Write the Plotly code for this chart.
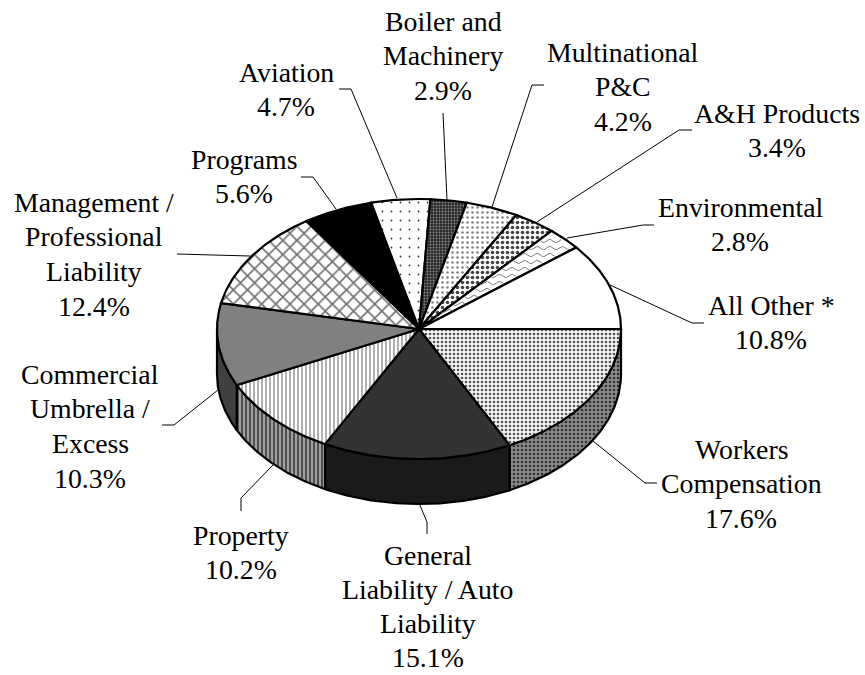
import math
import plotly.graph_objects as go

# ---- data ----
categories = ["Workers Compensation", "General Liability / Auto Liability", "Property",
              "Commercial Umbrella / Excess", "Management / Professional Liability",
              "Programs", "Aviation", "Boiler and Machinery", "Multinational P&C",
              "A&H Products", "Environmental", "All Other *"]
values = [17.6, 15.1, 10.2, 10.3, 12.4, 5.6, 4.7, 2.9, 4.2, 3.4, 2.8, 10.8]
label_lines = [["Workers", "Compensation"], ["General", "Liability / Auto", "Liability"], ["Property"],
               ["Commercial", "Umbrella /", "Excess"], ["Management /", "Professional", "Liability"],
               ["Programs"], ["Aviation"], ["Boiler and", "Machinery"], ["Multinational", "P&C"],
               ["A&H Products"], ["Environmental"], ["All Other *"]]

# ---- layout / style (separate from the data) ----
CX, CY, RX, RY, DEPTH = 419, 329, 202, 130, 45
W, H = 865, 675
FONT = dict(family="Liberation Serif", size=27.8, color="black")
label_x = [741, 427.5, 241, 90, 94, 244, 286, 443, 623, 777, 740, 771]
label_y = [449, 555, 535, 374, 202, 159, 72, 21, 52, 113, 207, 305]
label_step = [34.8, 34.0, 34.8, 34.8, 34.8, 34.8, 34.8, 34.8, 34.8, 34.8, 34.8, 34.8]
leaders = [
    [(593, 441), (645, 483), (657, 483)],
    [(419, 503), (427, 522), (427, 534)],
    [(273, 465), (241, 498), (241, 511)],
    [(218, 390), (174, 425), (162, 425)],
    [(250, 256), (189, 254), (177, 254)],
    [(336, 209), (313, 177), (301, 177)],
    [(397, 198), (351, 89), (339, 89)],
    [(447, 200), (443, 125), (443, 113)],
    [(492, 207), (532, 85), (544, 85)],
    [(537, 222), (679, 130), (692, 130)],
    [(567, 238), (643, 225), (654, 225)],
    [(610, 285), (692, 323), (704, 323)],
]
top_style = [
    dict(bg="#f4f4f4", fg="#555555", shape=".", size=4, sol=0.35),
    dict(bg="#333333"),
    dict(bg="#ffffff", fg="#a8a8a8", shape="|", size=4, sol=0.45),
    dict(bg="#808080"),
    dict(bg="#ffffff", fg="#707070", shape="x", size=10, sol=0.3),
    dict(bg="#000000"),
    dict(bg="#ffffff", fg="#333333", shape=".", size=9, sol=0.03),
    dict(bg="#2a2a2a", fg="#888888", shape=".", size=3, sol=0.3),
    dict(bg="#ffffff", fg="#808080", shape=".", size=5, sol=0.2),
    dict(bg="#ffffff", fg="#444444", shape=".", size=5, sol=0.4),
    dict(bg="#ffffff"),
    dict(bg="#ffffff"),
]
side_style = [
    dict(bg="#8a8a8a", fg="#333333", shape=".", size=4, sol=0.35),
    dict(bg="#1a1a1a"),
    dict(bg="#a0a0a0", fg="#505050", shape="|", size=4, sol=0.5),
    dict(bg="#404040"),
]


def fill_kw(st):
    kw = dict(fillcolor=st["bg"])
    if "shape" in st:
        kw["fillpattern"] = dict(shape=st["shape"], size=st["size"], solidity=st["sol"],
                                 fgcolor=st["fg"], bgcolor=st["bg"], fillmode="replace")
    return kw


def arc(a, b, dy=0, step=0.5):
    n = max(2, int(abs(b - a) / step) + 1)
    ts = [a + (b - a) * i / (n - 1) for i in range(n)]
    return [(CX + RX * math.cos(math.radians(t)), CY + dy + RY * math.sin(math.radians(t))) for t in ts]


fig = go.Figure()
bounds = []
acc = 0.0
total = sum(values)
for v in values:
    a0 = acc / total * 360
    acc += v
    bounds.append((a0, acc / total * 360))

# side walls (front half only)
for i, (a0, a1) in enumerate(bounds):
    if a0 >= 180:
        continue
    b = min(a1, 180)
    pts = arc(a0, b) + arc(b, a0, DEPTH)
    pts.append(pts[0])
    fig.add_trace(go.Scatter(x=[p[0] for p in pts], y=[p[1] for p in pts], mode="lines", fill="toself",
                             line=dict(color="black", width=2.2), hoverinfo="skip", **fill_kw(side_style[i])))

# top slices
for i, (a0, a1) in enumerate(bounds):
    pts = [(CX, CY)] + arc(a0, a1) + [(CX, CY)]
    fig.add_trace(go.Scatter(x=[p[0] for p in pts], y=[p[1] for p in pts], mode="lines", fill="toself",
                             line=dict(color="black", width=2.2), name=categories[i],
                             hoverinfo="name", **fill_kw(top_style[i])))

# wavy hatch for the Environmental slice
ea0, ea1 = bounds[categories.index("Environmental")]
wx, wy = [], []
row = CY - RY
while row < CY:
    x = CX
    while x < CX + RX:
        y = row + 1.6 * math.sin(x / 2.0)
        ang = math.degrees(math.atan2((y - CY) / RY, (x - CX) / RX)) % 360
        rr = math.hypot((x - CX) / RX, (y - CY) / RY)
        if ea0 + 0.5 < ang < ea1 - 0.5 and rr < 0.985:
            wx.append(x)
            wy.append(y)
        elif wx and wx[-1] is not None:
            wx.append(None)
            wy.append(None)
        x += 0.7
    if wx and wx[-1] is not None:
        wx.append(None)
        wy.append(None)
    row += 7
fig.add_trace(go.Scatter(x=wx, y=wy, mode="lines", line=dict(color="#777777", width=1), hoverinfo="skip"))

# leader lines
for pts in leaders:
    fig.add_trace(go.Scatter(x=[p[0] for p in pts], y=[p[1] for p in pts], mode="lines",
                             line=dict(color="black", width=1), hoverinfo="skip"))

# labels
for i, lines in enumerate(label_lines):
    all_lines = lines + [f"{values[i]:.1f}%"]
    for j, t in enumerate(all_lines):
        fig.add_annotation(x=label_x[i], y=label_y[i] + j * label_step[i], text=t, showarrow=False,
                           xanchor="center", yanchor="middle", font=FONT, borderpad=0)

fig.update_layout(
    width=W, height=H, margin=dict(l=0, r=0, t=0, b=0), showlegend=False,
    paper_bgcolor="white", plot_bgcolor="white",
    xaxis=dict(range=[0, W], visible=False, fixedrange=True),
    yaxis=dict(range=[H, 0], visible=False, fixedrange=True),
)
fig.write_html("out.html", config=dict(displayModeBar=False),
               post_script="document.body.style.margin='0';document.body.style.overflow='hidden';")
